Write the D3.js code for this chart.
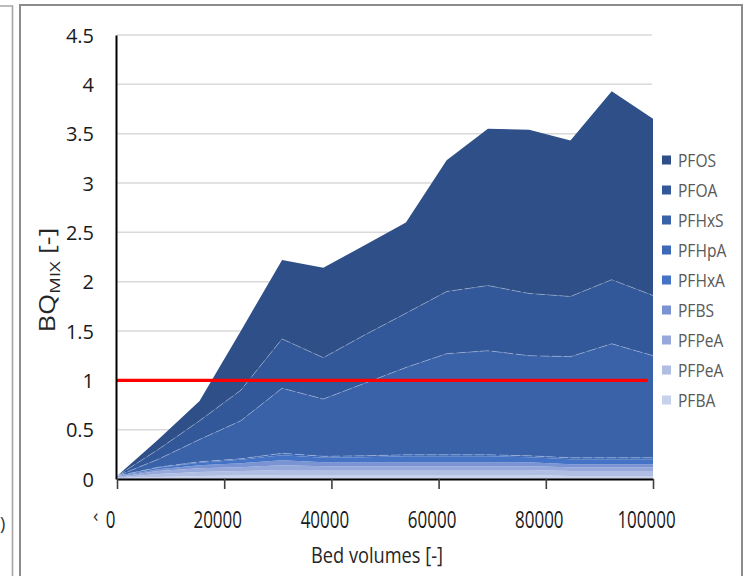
<!DOCTYPE html>
<html><head><meta charset="utf-8">
<script src="https://cdn.jsdelivr.net/npm/d3@7"></script>
<style>body{margin:0;background:#fff}svg{display:block}</style>
</head><body>
<svg id="chart" width="751" height="576"></svg>
<script>
// ---- data ----
const bedVolumes = [0, 7700, 15400, 23100, 30800, 38500, 46200, 53900, 61500, 69200, 76900, 84600, 92300, 100000];
// stacked bottom -> top
const PFBA   = [0.010,0.020,0.030,0.035,0.040,0.040,0.040,0.040,0.040,0.040,0.040,0.030,0.030,0.030];
const PFPeA2 = [0.005,0.030,0.040,0.045,0.050,0.050,0.050,0.050,0.050,0.050,0.050,0.050,0.050,0.050];
const PFPeA1 = [0.005,0.030,0.040,0.040,0.050,0.040,0.040,0.040,0.040,0.040,0.040,0.040,0.040,0.040];
const PFBS   = [0.005,0.020,0.030,0.040,0.050,0.040,0.040,0.040,0.040,0.040,0.040,0.030,0.030,0.030];
const PFHxA  = [0.003,0.015,0.025,0.035,0.050,0.045,0.050,0.060,0.060,0.060,0.050,0.050,0.050,0.050];
const PFHpA  = [0.002,0.005,0.010,0.010,0.020,0.015,0.015,0.015,0.015,0.015,0.015,0.015,0.015,0.015];
const PFHxS  = [0.000,0.080,0.225,0.385,0.660,0.580,0.735,0.885,1.025,1.055,1.015,1.025,1.155,1.035];
const PFOA   = [0.000,0.100,0.190,0.310,0.500,0.420,0.490,0.550,0.630,0.660,0.630,0.610,0.650,0.610];
const PFOS   = [0.000,0.100,0.200,0.600,0.800,0.910,0.910,0.920,1.330,1.590,1.660,1.580,1.910,1.790];
const seriesNames  = ["PFBA","PFPeA","PFPeA","PFBS","PFHxA","PFHpA","PFHxS","PFOA","PFOS"];
const seriesValues = [PFBA, PFPeA2, PFPeA1, PFBS, PFHxA, PFHpA, PFHxS, PFOA, PFOS];
const seriesColors = ["#C8D1EB","#AFBEE2","#96A9DA","#7A93D2","#4472C4","#3D69B8","#3962A9","#33589A","#2E4F88"];
const yTicks = [0,0.5,1,1.5,2,2.5,3,3.5,4,4.5];
const xTicks = [0,20000,40000,60000,80000,100000];
const threshold = 1;

// ---- drawing ----
const svg = d3.select("#chart");
const x = d3.scaleLinear().domain([0,100000]).range([117,653]);
const y = d3.scaleLinear().domain([0,4.5]).range([479,35]);
const FONT = "'Open Sans', 'Noto Sans', sans-serif";

// frame lines
svg.append("path").attr("d","M0,6H12.5V576").attr("fill","none").attr("stroke","#a6a6a6").attr("stroke-width",1.6);
svg.append("path").attr("d","M20,576V5H742V576").attr("fill","none").attr("stroke","#8c8c8c").attr("stroke-width",2);

// gridlines
svg.append("g").selectAll("line").data(yTicks.filter(t=>t>0)).join("line")
  .attr("x1", x(0)).attr("x2", x(100000)-1)
  .attr("y1", d=>y(d)).attr("y2", d=>y(d))
  .attr("stroke","#d9d9d9").attr("stroke-width",1.5);

// stacked areas
const rows = bedVolumes.map((bv,i)=>{ const r={bv}; seriesValues.forEach((s,k)=>r[k]=s[i]); return r; });
const stacked = d3.stack().keys(d3.range(seriesValues.length))(rows);
const area = d3.area().x(d=>x(d.data.bv)).y0(d=>y(d[0])).y1(d=>y(d[1]));
const topLine = d3.line().x(d=>x(d.data.bv)).y(d=>y(d[1]));
svg.append("g").selectAll("path").data(stacked).join("path")
  .attr("d", area).attr("fill", (d,i)=>seriesColors[i]);
svg.append("g").selectAll("path").data(stacked.slice(5,8)).join("path")
  .attr("d", topLine).attr("fill","none")
  .attr("stroke","rgba(255,255,255,0.3)").attr("stroke-width",1)
  .attr("stroke-dasharray","9,3");

// threshold line
svg.append("line").attr("x1", x(0)).attr("x2", x(99000))
  .attr("y1", y(threshold)).attr("y2", y(threshold))
  .attr("stroke","#ff0000").attr("stroke-width",3.2);

// y axis
const gy = svg.append("g").attr("transform","translate(116,0)")
  .call(d3.axisLeft(y).tickValues(yTicks).tickSize(0).tickPadding(22).tickFormat(d3.format("")));
gy.select(".domain").attr("stroke","#000").attr("stroke-width",2);
gy.selectAll("text").attr("font-family",FONT).attr("font-size",20).attr("fill","#1a1a1a")
  .attr("dy",null).attr("y",7);

// x axis
const gx = svg.append("g").attr("transform","translate(0,479)")
  .call(d3.axisBottom(x).tickValues(xTicks).tickSizeInner(10).tickSizeOuter(0).tickFormat(d3.format("d")));
gx.select(".domain").attr("stroke","#000").attr("stroke-width",2);
gx.selectAll(".tick line").attr("stroke","#404040").attr("stroke-width",1.6);
gx.selectAll("text").attr("font-family",FONT).attr("font-size",23).attr("fill","#1a1a1a")
  .attr("dy",null).attr("y",49).attr("x",-7)
  .attr("textLength", d=>String(d).length*9.7).attr("lengthAdjust","spacingAndGlyphs");

// stray glyphs visible in the reference crop
svg.append("text").attr("x",93).attr("y",522).attr("font-family",FONT).attr("font-size",18)
  .attr("fill","#333").text("‹");
svg.append("text").attr("x",0).attr("y",530).attr("font-family",FONT).attr("font-size",18)
  .attr("fill","#333").text(")");

// x title
svg.append("text").attr("x",377).attr("y",563).attr("text-anchor","middle")
  .attr("font-family",FONT).attr("font-size",22).attr("fill","#262626")
  .attr("textLength",132).attr("lengthAdjust","spacingAndGlyphs")
  .text("Bed volumes [-]");

// y title
const yt = svg.append("text").attr("text-anchor","middle")
  .attr("font-family",FONT).attr("font-size",22).attr("fill","#262626");
yt.append("tspan").text("BQ");
yt.append("tspan").attr("font-size",15).attr("dy",5).text("MIX");
yt.append("tspan").attr("dy",-5).text(" [-]");
const len = yt.node().getComputedTextLength();
yt.attr("transform",`translate(55,280) rotate(-90) scale(${105/len},1)`);

// legend (top series first)
const legendItems = seriesNames.map((n,i)=>({name:n,color:seriesColors[i]})).reverse();
const lg = svg.append("g").selectAll("g").data(legendItems).join("g")
  .attr("transform",(d,i)=>`translate(662,${160+i*30})`);
lg.append("rect").attr("x",0).attr("y",-4.5).attr("width",9).attr("height",9).attr("fill",d=>d.color);
lg.append("text").attr("transform","translate(16,6.5) scale(0.82,1)")
  .attr("font-family",FONT).attr("font-size",19).attr("fill","#595959").text(d=>d.name);
</script>
</body></html>
